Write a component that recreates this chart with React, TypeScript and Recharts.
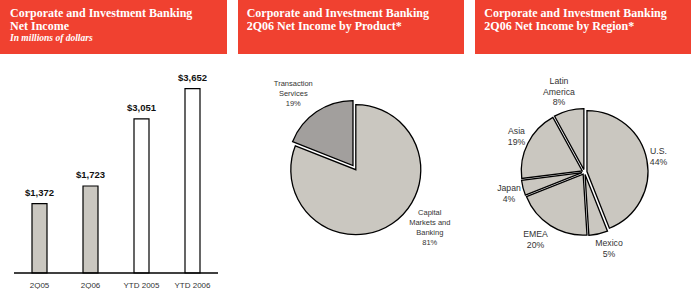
import React from 'react';
import { BarChart, Bar, XAxis, YAxis, Cell, LabelList, PieChart, Pie } from 'recharts';

// ---------- data ----------
const BAR_CATEGORIES = ['2Q05', '2Q06', 'YTD 2005', 'YTD 2006'];
const BAR_VALUES = [1372, 1723, 3051, 3652];
const BAR_IS_YTD = [false, false, true, true];

const PRODUCT_NAMES = ['Capital Markets and Banking', 'Transaction Services'];
const PRODUCT_VALUES = [81, 19];
const PRODUCT_LABEL_LINES = [['Capital', 'Markets and', 'Banking'], ['Transaction', 'Services']];

const REGION_NAMES = ['U.S.', 'Mexico', 'EMEA', 'Japan', 'Asia', 'Latin America'];
const REGION_VALUES = [44, 5, 20, 4, 19, 8];
const REGION_LABEL_LINES = [['U.S.'], ['Mexico'], ['EMEA'], ['Japan'], ['Asia'], ['Latin', 'America']];

const HEADER_1 = ['Corporate and Investment Banking', 'Net Income'];
const HEADER_1_SUB = 'In millions of dollars';
const HEADER_2 = ['Corporate and Investment Banking', '2Q06 Net Income by Product*'];
const HEADER_3 = ['Corporate and Investment Banking', '2Q06 Net Income by Region*'];

// ---------- styles ----------
const RED = '#f04130';
const SERIF = "'Liberation Serif', 'Times New Roman', serif";
const SANS = "'Liberation Sans', Arial, Helvetica, sans-serif";
const SLICE_FILL = '#cac7c0';
const SLICE_DARK = '#a29f9d';
const NO_MARGIN = { top: 0, right: 0, bottom: 0, left: 0 };

// label placement offsets relative to pie centers (style only)
const PRODUCT_LABEL_OFFSETS = [[74, 58], [-62.5, -76]];
const REGION_LABEL_OFFSETS = [[74, -16], [24.5, 76], [-49, 67], [-75.5, 21], [-68, -36], [-25.5, -80.5]];

const barData = BAR_CATEGORIES.map((c, i) => ({ name: c, value: BAR_VALUES[i], ytd: BAR_IS_YTD[i] }));
const productData = PRODUCT_NAMES.map((n, i) => ({ name: n, value: PRODUCT_VALUES[i] }));
const regionData = REGION_NAMES.map((n, i) => ({ name: n, value: REGION_VALUES[i] }));

function explode(values: number[], i: number, d: number) {
  const total = values.reduce((a, b) => a + b, 0);
  let before = 0;
  for (let k = 0; k < i; k++) before += values[k];
  const mid = 90 - ((before + values[i] / 2) / total) * 360;
  const rad = (mid * Math.PI) / 180;
  return { dx: d * Math.cos(rad), dy: -d * Math.sin(rad) };
}

function makeLabel(
  center: { x: number; y: number },
  offsets: number[][],
  lines: string[][],
  values: number[],
  fontSize: number,
  lineH: number,
) {
  return (props: any) => {
    const i = props.index;
    const all = [...lines[i], `${values[i]}%`];
    const x = center.x + offsets[i][0];
    const yc = center.y + offsets[i][1];
    const y0 = yc - ((all.length - 1) * lineH) / 2 + fontSize * 0.36;
    return (
      <text key={`lbl-${i}`} x={x} y={y0} textAnchor="middle" fontSize={fontSize} fontFamily={SANS} fill="#333" stroke="none">
        {all.map((l, k) => (
          <tspan key={k} x={x} dy={k === 0 ? 0 : lineH}>
            {l}
          </tspan>
        ))}
      </text>
    );
  };
}

const Header = ({ left, width, lines, sub, padLeft }: any) => (
  <div
    style={{
      position: 'absolute',
      left,
      top: 0,
      width,
      height: 54,
      background: RED,
      color: '#fff',
      fontFamily: SERIF,
      fontWeight: 'bold',
      boxSizing: 'border-box',
      paddingLeft: padLeft,
      paddingTop: 6.5,
    }}
  >
    {lines.map((l: string, k: number) => (
      <div key={k} style={{ fontSize: 12, lineHeight: '13px', whiteSpace: 'nowrap' }}>
        {l}
      </div>
    ))}
    {sub && (
      <div style={{ fontSize: 9.5, lineHeight: '11px', fontStyle: 'italic', whiteSpace: 'nowrap' }}>{sub}</div>
    )}
  </div>
);

const P1 = { x: 125.8, y: 113.7, r: 65 };
const P2 = { x: 124.5, y: 116, r: 61 };

export default function App() {
  return (
    <div
      style={{
        position: 'absolute',
        left: 0,
        top: 0,
        width: 691,
        height: 289,
        background: '#fff',
        overflow: 'hidden',
      }}
    >
      <Header left={0} width={227} lines={HEADER_1} sub={HEADER_1_SUB} padLeft={10} />
      <Header left={238} width={226} lines={HEADER_2} padLeft={8.7} />
      <Header left={475} width={216} lines={HEADER_3} padLeft={9.3} />

      <div style={{ position: 'absolute', left: 0, top: 55 }}>
        <BarChart width={230} height={234} data={barData} margin={{ top: 16, right: 12, left: 14, bottom: 0 }}>
          <YAxis hide domain={[0, 4000]} />
          <XAxis
            dataKey="name"
            height={16}
            tickLine={false}
            tickSize={0}
            tickMargin={9}
            axisLine={{ stroke: '#000', strokeWidth: 1.5 }}
            tick={{ fontSize: 8, fill: '#333', fontFamily: SANS }}
            interval={0}
          />
          <Bar dataKey="value" barSize={15} stroke="#000" strokeWidth={1.2} isAnimationActive={false}>
            {barData.map((d, i) => (
              <Cell key={i} fill={d.ytd ? '#ffffff' : SLICE_FILL} />
            ))}
            <LabelList
              dataKey="value"
              position="top"
              offset={8}
              formatter={(v: any) => `$${Number(v).toLocaleString('en-US')}`}
              style={{ fontSize: 9.5, fontWeight: 'bold', fill: '#111', fontFamily: SANS }}
            />
          </Bar>
        </BarChart>
      </div>

      <div style={{ position: 'absolute', left: 230, top: 56 }}>
        <PieChart width={230} height={233} margin={NO_MARGIN}>
          {productData.map((_, i) => {
            const off = explode(PRODUCT_VALUES, i, i === 1 ? 5 : 0);
            const last = i === productData.length - 1;
            return (
              <Pie
                key={`p${i}`}
                data={productData}
                dataKey="value"
                cx={P1.x + off.dx}
                cy={P1.y + off.dy}
                outerRadius={P1.r}
                startAngle={90}
                endAngle={-270}
                stroke="none"
                labelLine={false}
                label={
                  last
                    ? makeLabel({ x: P1.x, y: P1.y }, PRODUCT_LABEL_OFFSETS, PRODUCT_LABEL_LINES, PRODUCT_VALUES, 7.5, 10)
                    : false
                }
                isAnimationActive={false}
              >
                {productData.map((__, k) => (
                  <Cell
                    key={k}
                    fill={k === i ? (k === 1 ? SLICE_DARK : SLICE_FILL) : 'none'}
                    stroke={k === i ? '#000' : 'none'}
                    strokeWidth={1.3}
                  />
                ))}
              </Pie>
            );
          })}
        </PieChart>
      </div>

      <div style={{ position: 'absolute', left: 460, top: 56 }}>
        <PieChart width={231} height={233} margin={NO_MARGIN}>
          {regionData.map((_, i) => {
            const off = explode(REGION_VALUES, i, 2.5);
            const last = i === regionData.length - 1;
            return (
              <Pie
                key={`r${i}`}
                data={regionData}
                dataKey="value"
                cx={P2.x + off.dx}
                cy={P2.y + off.dy}
                outerRadius={P2.r}
                startAngle={90}
                endAngle={-270}
                stroke="none"
                labelLine={false}
                label={
                  last
                    ? makeLabel({ x: P2.x, y: P2.y }, REGION_LABEL_OFFSETS, REGION_LABEL_LINES, REGION_VALUES, 8.7, 10.8)
                    : false
                }
                isAnimationActive={false}
              >
                {regionData.map((__, k) => (
                  <Cell
                    key={k}
                    fill={k === i ? SLICE_FILL : 'none'}
                    stroke={k === i ? '#000' : 'none'}
                    strokeWidth={1.3}
                  />
                ))}
              </Pie>
            );
          })}
        </PieChart>
      </div>
    </div>
  );
}
